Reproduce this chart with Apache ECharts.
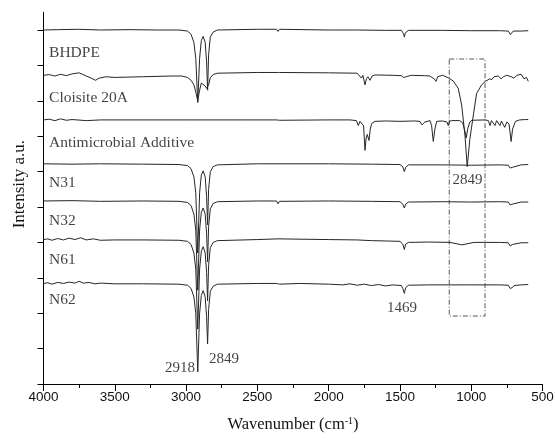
<!DOCTYPE html>
<html>
<head>
<meta charset="utf-8">
<script src="https://cdn.jsdelivr.net/npm/echarts@6/dist/echarts.min.js"></script>
<style>
  html, body { margin: 0; padding: 0; background: #fff; }
  #chart { width: 555px; height: 441px; }
</style>
</head>
<body>
<div id="chart"></div>
<script>
// spectra, [wavenumber, intensity]
let bhdpe = [
    [4000,10.00],[3900,10.01],[3750,10.02],[3600,10.00],[3400,10.01],[3200,10.00],[3050,10.00],
    [2990,9.97],[2965,9.88],[2945,9.65],[2932,9.2],[2918,7.95],[2905,9.2],[2893,9.7],[2880,9.82],
    [2866,9.65],[2856,9.1],[2849,8.3],[2842,9.3],[2830,9.8],[2810,9.94],[2780,10.0],[2500,10.02],
    [2365,10.02],[2355,9.96],[2345,10.02],[2000,10.0],[1800,10.0],[1600,9.99],[1490,9.99],
    [1475,9.9],[1469,9.8],[1462,9.92],[1440,9.99],[1200,9.99],[1000,9.98],[800,9.98],[740,9.97],
    [725,9.87],[718,9.9],[705,9.97],[650,9.97],[600,9.98]
];
let cloisite = [
    [4000,8.72],[3960,8.74],[3920,8.7],[3880,8.75],[3840,8.71],[3800,8.76],[3750,8.79],[3700,8.7],
    [3660,8.63],[3635,8.58],[3610,8.64],[3560,8.68],[3500,8.66],[3300,8.68],[3100,8.7],[3030,8.7],
    [2990,8.66],[2965,8.58],[2945,8.45],[2932,8.25],[2918,8.0],[2905,8.3],[2893,8.5],[2880,8.5],
    [2866,8.42],[2856,8.35],[2849,8.3],[2842,8.45],[2830,8.65],[2810,8.74],[2780,8.78],[2500,8.8],
    [2360,8.8],[2353,8.77],[2345,8.8],[2000,8.79],[1800,8.78],[1790,8.77],[1770,8.64],[1760,8.72],
    [1745,8.45],[1735,8.62],[1725,8.68],[1710,8.58],[1695,8.7],[1675,8.73],[1550,8.72],[1490,8.71],
    [1475,8.66],[1464,8.62],[1455,8.68],[1420,8.72],[1330,8.71],[1290,8.7],[1260,8.62],[1247,8.55],
    [1235,8.68],[1200,8.72],[1161,8.65],[1126,8.56],[1091,8.35],[1067,7.88],[1044,7.03],[1028,6.14],
    [1010,6.9],[985,7.6],[962,8.21],[927,8.45],[900,8.55],[870,8.62],[855,8.6],[840,8.68],[810,8.7],
    [790,8.62],[775,8.68],[750,8.72],[720,8.68],[700,8.64],[680,8.72],[650,8.75],[630,8.62],
    [612,8.66],[600,8.55]
];
let antimicrobial = [
    [4000,7.46],[3960,7.48],[3920,7.44],[3880,7.49],[3840,7.45],[3800,7.47],[3700,7.44],[3600,7.46],
    [3400,7.46],[3000,7.46],[2600,7.46],[2365,7.46],[2355,7.5],[2345,7.45],[2000,7.46],[1850,7.46],
    [1805,7.44],[1792,7.3],[1780,7.42],[1768,7.4],[1755,7.3],[1745,6.6],[1737,6.95],[1729,7.05],
    [1717,6.88],[1708,7.2],[1698,7.36],[1675,7.42],[1600,7.43],[1500,7.42],[1400,7.43],[1360,7.42],
    [1345,7.32],[1336,7.3],[1325,7.4],[1289,7.44],[1278,7.3],[1266,6.85],[1255,7.2],[1242,7.42],
    [1200,7.43],[1170,7.4],[1161,7.3],[1152,7.42],[1137,7.44],[1080,7.44],[1060,7.38],[1045,7.15],
    [1035,6.95],[1025,7.2],[1010,7.4],[995,7.45],[900,7.46],[880,7.44],[868,7.3],[858,7.44],
    [845,7.45],[833,7.3],[822,7.44],[810,7.45],[798,7.3],[788,7.43],[775,7.44],[765,7.25],[750,7.4],
    [735,7.35],[720,6.85],[710,7.2],[690,7.42],[660,7.46],[620,7.47],[600,7.47]
];
let n31 = [
    [4000,6.22],[3800,6.21],[3600,6.22],[3300,6.21],[3050,6.2],[2990,6.17],[2965,6.08],[2945,5.85],
    [2932,5.4],[2918,3.7],[2905,5.4],[2893,5.9],[2880,6.02],[2866,5.85],[2856,5.3],[2849,4.5],
    [2842,5.5],[2830,6.0],[2810,6.14],[2780,6.19],[2500,6.22],[2355,6.22],[2000,6.22],[1700,6.21],
    [1500,6.2],[1480,6.14],[1469,6.0],[1460,6.12],[1440,6.19],[1200,6.19],[1000,6.18],[800,6.19],
    [740,6.18],[727,6.1],[720,6.05],[712,6.12],[700,6.17],[650,6.19],[600,6.2]
];
let n32 = [
    [4000,5.17],[3800,5.18],[3600,5.16],[3300,5.17],[3050,5.16],[2990,5.13],[2965,5.04],[2945,4.8],
    [2932,4.35],[2918,2.65],[2905,4.35],[2893,4.85],[2880,4.97],[2866,4.8],[2856,4.25],[2849,3.45],
    [2842,4.45],[2830,4.95],[2810,5.1],[2780,5.15],[2500,5.17],[2365,5.17],[2355,5.09],[2345,5.16],
    [2000,5.17],[1700,5.16],[1500,5.15],[1480,5.08],[1469,4.97],[1460,5.08],[1440,5.14],[1200,5.15],
    [1000,5.14],[800,5.15],[740,5.14],[727,5.06],[720,5.01],[712,5.08],[700,5.13],[650,5.14],[600,5.14]
];
let n61 = [
    [4000,4.08],[3970,4.1],[3940,4.06],[3900,4.11],[3860,4.07],[3820,4.12],[3780,4.08],[3740,4.13],
    [3700,4.07],[3650,4.1],[3600,4.06],[3500,4.07],[3300,4.07],[3050,4.06],[2990,4.03],[2965,3.94],
    [2945,3.7],[2932,3.25],[2918,1.55],[2905,3.25],[2893,3.75],[2880,3.88],[2866,3.7],[2856,3.15],
    [2849,2.35],[2842,3.35],[2830,3.85],[2810,4.0],[2780,4.05],[2500,4.08],[2355,4.1],[2000,4.08],
    [1800,4.07],[1700,4.05],[1600,4.04],[1500,4.03],[1480,3.95],[1469,3.8],[1460,3.95],[1440,4.0],
    [1300,4.01],[1150,4.0],[1100,3.96],[1065,3.93],[1030,3.96],[980,4.0],[800,4.0],[740,3.99],
    [727,3.9],[720,3.86],[712,3.94],[700,3.98],[650,3.99],[600,3.99]
];
let n62 = [
    [4000,2.84],[3970,2.86],[3940,2.82],[3900,2.87],[3860,2.84],[3820,2.88],[3780,2.85],[3750,2.9],
    [3720,2.85],[3680,2.87],[3640,2.83],[3600,2.85],[3500,2.83],[3300,2.83],[3050,2.82],[2990,2.79],
    [2965,2.7],[2945,2.46],[2932,2.0],[2918,0.34],[2905,2.0],[2893,2.5],[2880,2.64],[2866,2.46],
    [2856,1.9],[2849,1.13],[2842,2.1],[2830,2.62],[2810,2.76],[2780,2.82],[2500,2.84],[2365,2.84],
    [2355,2.88],[2345,2.82],[2200,2.84],[2000,2.82],[1900,2.8],[1850,2.83],[1800,2.79],[1750,2.82],
    [1700,2.78],[1650,2.81],[1600,2.77],[1550,2.8],[1490,2.78],[1480,2.7],[1469,2.56],[1460,2.72],
    [1440,2.79],[1300,2.8],[1000,2.8],[800,2.8],[740,2.79],[727,2.7],[720,2.66],[712,2.72],
    [700,2.78],[650,2.8],[600,2.81]
];

let sampleNames = ['BHDPE', 'Cloisite 20A', 'Antimicrobial Additive', 'N31', 'N32', 'N61', 'N62'];
let spectra = [bhdpe, cloisite, antimicrobial, n31, n32, n61, n62];

// where the sample names sit, [wavenumber, intensity]
let nameAnchors = [[3961,9.36],[3961,8.09],[3961,6.82],[3961,5.69],[3961,4.60],[3961,3.50],[3961,2.37]];

// peak labels, [wavenumber, intensity, text]
let peakNotes = [[3043,0.45,'2918'],[2734,0.71,'2849'],[1486,2.15,'1469'],[1026,5.76,'2849']];

// dash-dot box corners
let boxCorners = [[1154,9.18],[903,1.92]];

let xTicks = [500, 4000, 500];   // min, max, step
let yTicks = [0,1,2,3,4,5,6,7,8,9,10];

let chart = echarts.init(document.getElementById('chart'));

let series = spectra.map(function (d, i) {
    return {
        name: sampleNames[i],
        type: 'line',
        data: d,
        showSymbol: false,
        symbol: 'none',
        lineStyle: { color: '#262626', width: 1 },
        z: 2
    };
});

series[0].markArea = {
    silent: true,
    itemStyle: {
        color: 'rgba(0,0,0,0)',
        borderColor: '#555',
        borderWidth: 1,
        borderType: [5, 2, 1, 2]
    },
    data: [[{ coord: boxCorners[0] }, { coord: boxCorners[1] }]]
};

series.push({
    type: 'scatter',
    silent: true,
    symbolSize: 0,
    data: nameAnchors.map(function (p, i) { return [p[0], p[1], sampleNames[i]]; }),
    label: {
        show: true,
        position: 'right',
        distance: 0,
        formatter: function (p) { return p.value[2]; },
        fontFamily: 'Liberation Serif',
        fontSize: 15.5,
        color: '#111'
    },
    z: 5
});

series.push({
    type: 'scatter',
    silent: true,
    symbolSize: 0,
    data: peakNotes,
    label: {
        show: true,
        position: 'inside',
        formatter: function (p) { return p.value[2]; },
        fontFamily: 'Liberation Serif',
        fontSize: 15,
        color: '#111'
    },
    z: 5
});

let option = {
    animation: false,
    backgroundColor: '#fff',
    grid: {
        left: 43.5,
        right: 12.5,
        top: 12.3,
        bottom: 57,
        outerBoundsMode: 'none'
    },
    xAxis: {
        type: 'value',
        inverse: true,
        min: xTicks[0],
        max: xTicks[1],
        interval: xTicks[2],
        name: 'Wavenumber (cm{sup|-1})',
        nameLocation: 'middle',
        nameGap: 32,
        nameTextStyle: {
            fontFamily: 'Liberation Serif',
            fontSize: 16.5,
            color: '#111',
            rich: {
                sup: { fontFamily: 'Liberation Serif', fontSize: 10, verticalAlign: 'top', padding: [0, 0, 8, 0], color: '#111' }
            }
        },
        axisLine: { show: true, lineStyle: { color: '#000', width: 1 } },
        axisTick: { show: true, inside: false, length: 7, lineStyle: { color: '#000' } },
        minorTick: { show: true, splitNumber: 2, length: 4, lineStyle: { color: '#000' } },
        axisLabel: {
            fontFamily: 'Liberation Sans',
            fontSize: 13.5,
            color: '#111',
            margin: 6,
            formatter: function (v) { return String(v); }
        },
        splitLine: { show: false }
    },
    yAxis: {
        type: 'value',
        min: 0,
        max: 10.5,
        name: 'Intensity a.u.',
        nameLocation: 'middle',
        nameGap: 15,
        nameTextStyle: {
            fontFamily: 'Liberation Serif',
            fontSize: 17,
            color: '#111',
            padding: [0, 0, 0, 28]
        },
        axisLine: { show: true, lineStyle: { color: '#000', width: 1 } },
        axisTick: { show: true, inside: false, length: 6, customValues: yTicks, lineStyle: { color: '#000' } },
        axisLabel: { show: false },
        splitLine: { show: false }
    },
    series: series
};

chart.setOption(option);
</script>
</body>
</html>
